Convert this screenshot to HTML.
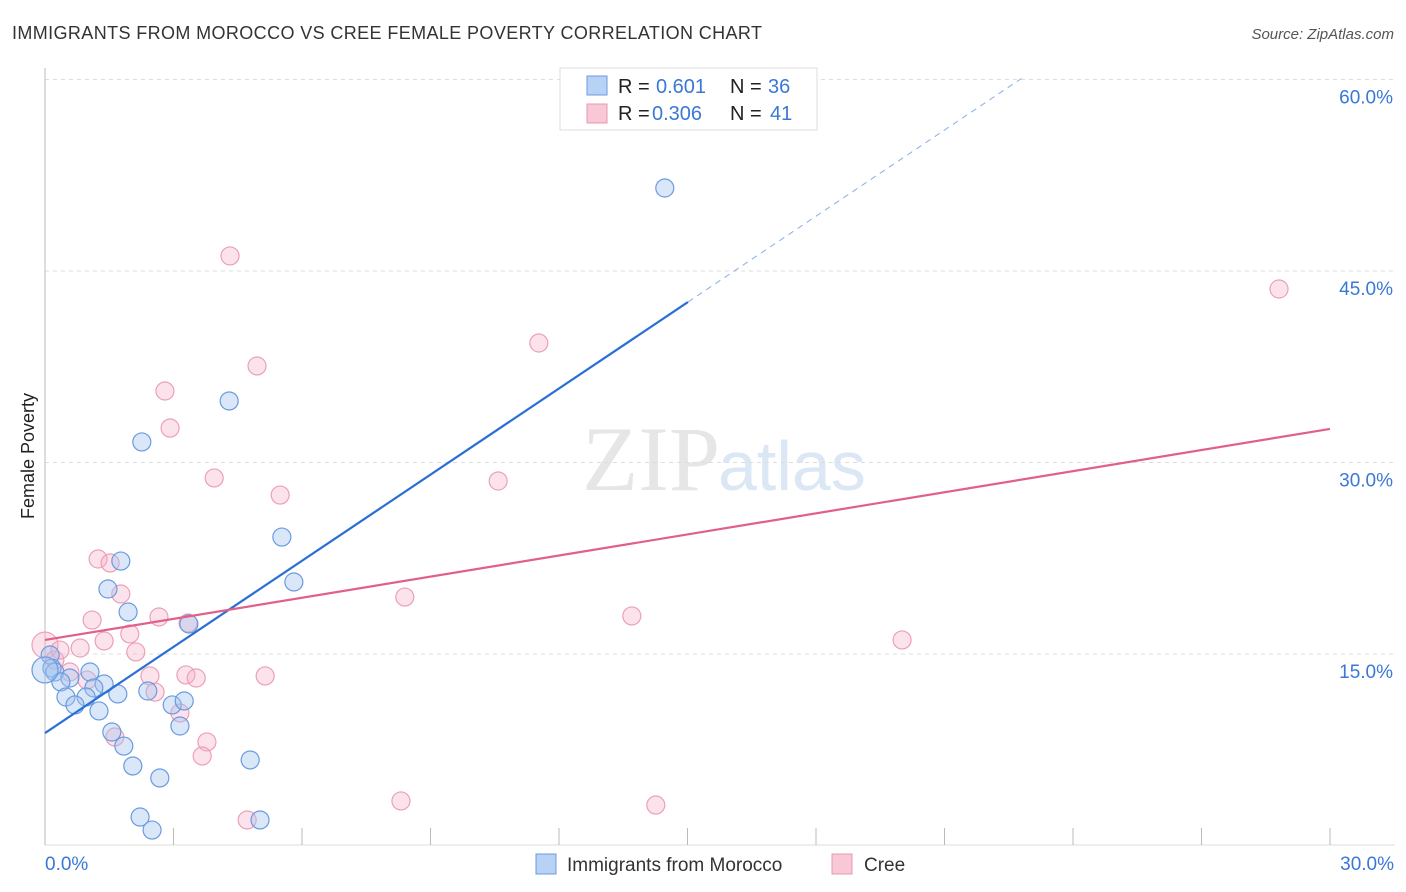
<!DOCTYPE html>
<html><head><meta charset="utf-8"><style>
body{margin:0;background:#fff;font-family:"Liberation Sans",sans-serif}
svg{display:block}
</style></head><body>
<svg id="c" width="1406" height="892">
<text x="12" y="39" font-size="18" fill="#333" textLength="750">IMMIGRANTS FROM MOROCCO VS CREE FEMALE POVERTY CORRELATION CHART</text>
<text x="1394" y="39" font-size="15" fill="#555" font-style="italic" text-anchor="end">Source: ZipAtlas.com</text>
<text x="720" y="490" font-size="92" fill="#e6e6e6" text-anchor="end" font-family="Liberation Serif">ZIP</text>
<text x="718" y="490" font-size="70" fill="#dce7f5">atlas</text>
<text x="34" y="456" font-size="18" fill="#222" transform="rotate(-90 34 456)" text-anchor="middle">Female Poverty</text>
<g id="grid"></g><g id="pts"></g><g id="lines"></g>
<g>
<rect x="560" y="68" width="257" height="62" fill="#fff" stroke="#ddd"/>
<rect x="587" y="76" width="20" height="19" fill="#b8d2f5" stroke="#6a9be0"/>
<rect x="587" y="104" width="20" height="19" fill="#f9c8d6" stroke="#e899b0"/>
<text x="618" y="93" font-size="20" fill="#222">R =</text>
<text x="656" y="93" font-size="20" fill="#3a78d6">0.601</text>
<text x="730" y="93" font-size="20" fill="#222">N =</text>
<text x="768" y="93" font-size="20" fill="#3a78d6">36</text>
<text x="618" y="120" font-size="20" fill="#222">R =</text>
<text x="652" y="120" font-size="20" fill="#3a78d6">0.306</text>
<text x="730" y="120" font-size="20" fill="#222">N =</text>
<text x="770" y="120" font-size="20" fill="#3a78d6">41</text>
</g>
<g>
<rect x="536" y="854" width="20" height="20" fill="#b8d2f5" stroke="#6a9be0"/>
<text x="567" y="871" font-size="19" fill="#333">Immigrants from Morocco</text>
<rect x="832" y="854" width="20" height="20" fill="#f9c8d6" stroke="#e899b0"/>
<text x="864" y="871" font-size="19" fill="#333">Cree</text>
</g>
</svg>
<script>
const blueX=[14.47,4.30,2.26,5.53,1.77,1.47,5.81,1.94,3.36,0.12,0.16,0.23,0.58,1.05,0.37,1.38,1.14,0.49,0.96,1.70,2.40,0.70,1.26,2.97,3.25,3.15,1.56,1.84,4.79,2.05,2.68,2.22,2.50,5.02,0.0];
const blueY=[51.5,34.82,31.61,24.16,22.28,20.09,20.64,18.29,17.35,14.92,13.90,13.59,13.12,13.59,12.81,12.65,12.34,11.63,11.63,11.87,12.10,11.01,10.54,11.01,11.32,9.36,8.89,7.79,6.70,6.23,5.29,2.23,1.21,2.00,13.75];
const pinkX=[4.32,28.81,11.53,4.95,2.80,2.92,3.95,10.58,5.49,1.24,1.52,1.77,8.40,1.10,2.66,13.70,1.98,1.38,0.82,20.01,2.12,0.0,0.23,2.45,3.29,3.53,5.14,0.98,2.57,3.15,1.63,3.78,3.67,8.31,14.26,4.72,3.34,0.35,0.58];
const pinkY=[46.18,43.59,39.36,37.56,35.60,32.70,28.79,28.55,27.45,22.44,22.13,19.70,19.46,17.66,17.90,17.98,16.57,16.02,15.47,16.10,15.16,15.70,14.53,13.28,13.36,13.12,13.28,12.96,12.02,10.38,8.50,8.11,7.01,3.49,3.17,2.00,17.43,15.31,13.59];
const yTicks=[15,30,45,60];
const xTickLabels=["0.0%","30.0%"];
const blueFit=[8.81,2.249,15.01,22.8];
const pinkFit=[16.10,0.551,30];
const X=v=>45+v/30*1285, Y=v=>845.5-v/15*191.5;
const NS="http://www.w3.org/2000/svg";
function mk(p,t,a){const e=document.createElementNS(NS,t);for(const k in a)e.setAttribute(k,a[k]);p.appendChild(e);return e;}
const g=document.getElementById('grid');
yTicks.forEach(t=>{
 const l=mk(g,'line',{x1:45,x2:1395,y1:Y(t),y2:Y(t),stroke:'#ddd','stroke-dasharray':'4,4'});
 
 
 const tx=mk(g,'text',{x:1393,y:Y(t)+24,'font-size':19,fill:'#3a78d6','text-anchor':'end'});
 tx.textContent=t.toFixed(1)+'%';
 
 
});
const ax=mk(g,'line',{x1:45,x2:45,y1:68,y2:845,stroke:'#bbb'});


const bx=mk(g,'line',{x1:45,x2:1395,y1:845,y2:845,stroke:'#ddd'});


for(let i=0;i<=10;i++){const t=mk(g,'line',{x1:X(i*3),x2:X(i*3),y1:828,y2:845,stroke:'#bbb'});
 
 }
[[0,'start',45],[30,'end',1394]].forEach((d,i)=>{const t=mk(g,'text',{x:d[2],y:870,'font-size':19,fill:'#3a78d6','text-anchor':d[1]});
 t.textContent=xTickLabels[i];
 
 });
const P=document.getElementById('pts');
pinkX.forEach((x,i)=>{const c=mk(P,'circle',{cx:X(x),cy:Y(pinkY[i]),r:x===0?13:9,fill:'rgba(245,175,198,0.35)',stroke:'#eba0b8','stroke-width':1.2});
 
 });
blueX.forEach((x,i)=>{const c=mk(P,'circle',{cx:X(x),cy:Y(blueY[i]),r:x===0?13:9,fill:'rgba(160,195,240,0.4)',stroke:'#6a9be0','stroke-width':1.2});
 
 });
const L=document.getElementById('lines');
const b1=mk(L,'line',{x1:X(0),y1:Y(blueFit[0]),x2:X(blueFit[2]),y2:Y(blueFit[0]+blueFit[1]*blueFit[2]),stroke:'#2a6fd6','stroke-width':2.2});


const b2=mk(L,'line',{x1:X(blueFit[2]),y1:Y(blueFit[0]+blueFit[1]*blueFit[2]),x2:X(blueFit[3]),y2:Y(blueFit[0]+blueFit[1]*blueFit[3]),stroke:'#8ab0e6','stroke-width':1,'stroke-dasharray':'6,5'});


const p1=mk(L,'line',{x1:X(0),y1:Y(pinkFit[0]),x2:X(pinkFit[2]),y2:Y(pinkFit[0]+pinkFit[1]*pinkFit[2]),stroke:'#e0608a','stroke-width':2.2});


</script>
</body></html>
